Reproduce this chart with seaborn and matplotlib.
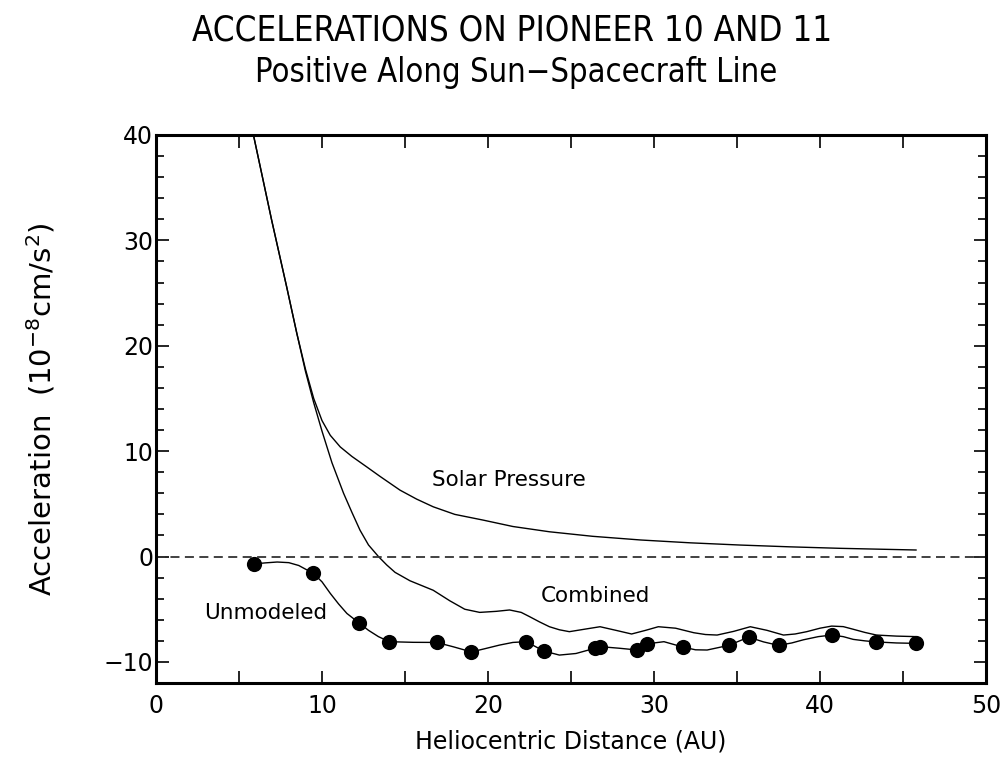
import matplotlib
matplotlib.use("Agg")
import matplotlib.pyplot as plt
from matplotlib.ticker import MultipleLocator
import seaborn as sns
import pandas as pd

# ---- data ----
marker_x = [5.9, 9.48, 12.23, 14.05, 16.9, 19.0, 22.3, 23.37, 26.45, 26.75,
            29.0, 29.6, 31.77, 34.5, 35.7, 37.5, 40.7, 43.36, 45.8]
marker_y = [-0.7, -1.6, -6.3, -8.08, -8.15, -9.05, -8.08, -8.97, -8.7, -8.55,
            -8.87, -8.28, -8.6, -8.43, -7.65, -8.43, -7.45, -8.1, -8.24]

unmod_x = [5.9, 6.6, 7.3, 8.0, 8.6, 9.48, 10.0, 10.5, 11.0, 11.5, 12.23, 12.8,
           13.4, 14.05, 15.5, 16.9, 17.9, 19.0, 19.8, 20.7, 21.5, 22.3, 23.37,
           24.3, 25.3, 26.45, 26.75, 27.9, 29.0, 29.6, 30.6, 31.77, 32.5, 33.2,
           34.5, 35.7, 36.6, 37.5, 38.3, 39.0, 39.9, 40.7, 41.4, 42.0, 42.7,
           43.36, 44.6, 45.8]
unmod_y = [-0.7, -0.6, -0.52, -0.58, -0.85, -1.6, -2.4, -3.5, -4.5, -5.4, -6.3,
           -7.0, -7.6, -8.08, -8.14, -8.15, -8.56, -9.05, -8.75, -8.4, -8.15, -8.08,
           -8.97, -9.35, -9.2, -8.7, -8.55, -8.7, -8.87, -8.28, -8.08, -8.6, -8.85,
           -8.87, -8.43, -7.65, -8.1, -8.43, -8.2, -7.9, -7.6, -7.45, -7.6, -7.86,
           -8.0, -8.1, -8.2, -8.24]

comb_x = [5.87, 6.97, 7.87, 8.48, 9.0, 9.5, 10.0, 10.6, 11.3, 11.8, 12.29,
          12.8, 13.4, 13.9, 14.4, 15.3, 16.0, 16.7, 17.7, 18.6, 19.5, 20.5, 21.3,
          22.0, 22.5, 23.1, 23.7, 24.3, 24.9, 25.8, 26.75, 27.7, 28.65, 29.5, 30.26,
          31.3, 32.4, 33.1, 33.8, 34.8, 35.8, 36.8, 37.8, 38.5, 39.2, 40.0, 40.7,
          41.4, 42.0, 42.7, 43.4, 44.6, 45.8]
comb_y = [40, 31.9, 25.6, 21.2, 17.6, 14.6, 11.9, 8.9, 6.0, 4.2, 2.5,
          1.1, 0.0, -0.8, -1.5, -2.3, -2.75, -3.2, -4.2, -5.0, -5.3, -5.2, -5.07,
          -5.3, -5.7, -6.2, -6.66, -6.95, -7.13, -6.9, -6.66, -7.0, -7.35, -7.0, -6.66,
          -6.8, -7.23, -7.4, -7.45, -7.1, -6.66, -7.0, -7.45, -7.35, -7.13, -6.8, -6.6,
          -6.65, -6.9, -7.2, -7.45, -7.55, -7.6]

solar_x = [5.87, 6.97, 7.87, 8.48, 9.0, 9.5, 10.0, 10.5, 11.1, 11.8, 12.7, 13.5,
           14.7, 15.7, 16.7, 18.0, 19.7, 21.5, 23.7, 26.3, 29.2, 32.2, 35.2, 38.2,
           41.2, 43.5, 45.8]
solar_y = [40, 31.9, 25.6, 21.2, 17.8, 15.0, 12.9, 11.5, 10.4, 9.5, 8.5, 7.6,
           6.3, 5.45, 4.72, 4.0, 3.46, 2.85, 2.35, 1.92, 1.57, 1.3, 1.09, 0.92,
           0.78, 0.7, 0.62]

x_ticks = [0, 10, 20, 30, 40, 50]
y_ticks = [-10, 0, 10, 20, 30, 40]

title_text = "ACCELERATIONS ON PIONEER 10 AND 11"
subtitle_text = "Positive Along Sun\u2212Spacecraft Line"
xlabel_text = "Heliocentric Distance (AU)"
ylabel_text = "Acceleration  (10$^{-8}$cm/s$^{2}$)"

# ---- figure ----
sns.set_theme(style="ticks")
plt.rcParams['font.family'] = ['DejaVu Sans']
plt.rcParams['mathtext.fontset'] = 'dejavusans'
plt.rcParams['text.color'] = 'black'
plt.rcParams['axes.labelcolor'] = 'black'
plt.rcParams['xtick.color'] = 'black'
plt.rcParams['ytick.color'] = 'black'

fig = plt.figure(figsize=(10.08, 7.66), dpi=100)
ax = fig.add_axes([156/1008, 1 - 683/766, 830/1008, 548/766])

df_s = pd.DataFrame({"x": solar_x, "y": solar_y})
df_c = pd.DataFrame({"x": comb_x, "y": comb_y})
df_u = pd.DataFrame({"x": unmod_x, "y": unmod_y})
df_m = pd.DataFrame({"x": marker_x, "y": marker_y})

for d in (df_s, df_c, df_u):
    sns.lineplot(data=d, x="x", y="y", ax=ax, color="black", lw=1.0,
                 sort=False, estimator=None)
sns.scatterplot(data=df_m, x="x", y="y", ax=ax, color="black", s=120,
                edgecolor="black", linewidth=0, zorder=5)

ax.axhline(0, color="#333333", lw=1.3, ls=(0, (5, 3)))

ax.set_xlim(0, 50)
ax.set_ylim(-12, 40)
ax.set_xticks(x_ticks)
ax.set_yticks(y_ticks)
ax.xaxis.set_minor_locator(MultipleLocator(5))
ax.yaxis.set_minor_locator(MultipleLocator(2))
ax.tick_params(which="both", direction="in", top=True, right=True,
               color="black", width=1.2)
ax.tick_params(which="major", length=9, labelsize=17)
ax.tick_params(which="minor", length=6)
ax.tick_params(axis="x", which="minor", length=9)
ax.tick_params(axis="x", which="major", pad=8)
ax.tick_params(axis="y", which="major", pad=2)
for sp in ax.spines.values():
    sp.set_linewidth(2.2)
    sp.set_color("black")

ax.set_xlabel(xlabel_text, fontsize=17, labelpad=8)
ax.set_ylabel(ylabel_text, fontsize=21, labelpad=33)

ax.text(16.6, 7.3, "Solar Pressure", fontsize=15.5, ha="left", va="center")
ax.text(23.2, -3.75, "Combined", fontsize=15.5, ha="left", va="center")
ax.text(2.9, -5.4, "Unmodeled", fontsize=15.5, ha="left", va="center")

fig.text(0.508, 0.960, title_text, fontsize=25, ha="center", va="center",
         fontweight="light", fontstretch="condensed")
fig.text(0.512, 0.905, subtitle_text, fontsize=23.5, ha="center", va="center",
         fontweight="light", fontstretch="condensed")

fig.savefig("out.png", dpi=100)
